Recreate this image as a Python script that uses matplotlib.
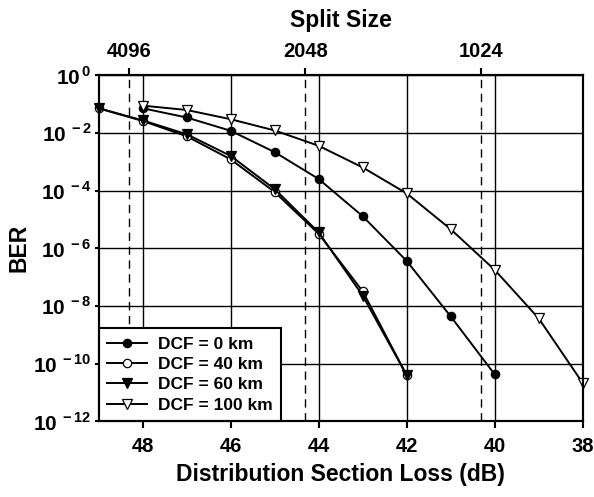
import matplotlib
matplotlib.use("Agg")
import matplotlib.pyplot as plt
import numpy as np

plt.rcParams["font.family"] = "Liberation Sans"
plt.rcParams["font.weight"] = "bold"
plt.rcParams["mathtext.fontset"] = "custom"
plt.rcParams["mathtext.rm"] = "Liberation Sans:bold"
plt.rcParams["mathtext.bf"] = "Liberation Sans:bold"

# data (log10 BER)
loss_0 = [48, 47, 46, 45, 44, 43, 42, 41, 40]
ber_0 = [-1.15, -1.47, -1.93, -2.67, -3.60, -4.89, -6.44, -8.36, -10.37]

loss_40 = [49, 48, 47, 46, 45, 44, 43, 42]
ber_40 = [-1.15, -1.59, -2.12, -2.92, -4.05, -5.50, -7.49, -10.40]

loss_60 = [49, 48, 47, 46, 45, 44, 43, 42]
ber_60 = [-1.15, -1.57, -2.05, -2.80, -3.95, -5.45, -7.64, -10.40]

loss_100 = [48, 47, 46, 45, 44, 43, 42, 41, 40, 39, 38]
ber_100 = [-1.06, -1.21, -1.53, -1.92, -2.45, -3.20, -4.10, -5.34, -6.75, -8.43, -10.67]

split_loss = [48.3, 44.3, 40.3]
split_labels = ["4096", "2048", "1024"]

x_ticks = [48, 46, 44, 42, 40, 38]
y_exps = [0, -2, -4, -6, -8, -10, -12]

fig = plt.figure(figsize=(5.94, 4.97), dpi=100)
ax = fig.add_axes([0.166, 0.152, 0.815, 0.697])

series = [
    (loss_0, ber_0, "o", "black", "DCF = 0 km"),
    (loss_40, ber_40, "o", "white", "DCF = 40 km"),
    (loss_60, ber_60, "v", "black", "DCF = 60 km"),
    (loss_100, ber_100, "v", "white", "DCF = 100 km"),
]
for xs, ys, mk, fc, lab in series:
    ax.plot(xs, 10.0 ** np.array(ys), color="black", lw=1.4, marker=mk,
            ms=6 if mk == "o" else 6.5, mfc=fc, mec="black", mew=0.9,
            label=lab, zorder=3, clip_on=False)

ax.set_yscale("log")
ax.set_xlim(49, 38)
ax.set_ylim(1e-12, 1e0)
ax.set_xticks(x_ticks)
ax.set_xticklabels([str(t) for t in x_ticks])
ax.set_yticks([10.0 ** e for e in y_exps])
ax.set_yticklabels([r"$10^{\,%d}$" % e for e in y_exps])
ax.minorticks_off()
ax.grid(True, which="major", color="black", lw=1.0)
ax.set_axisbelow(True)
for xv in split_loss:
    ax.axvline(xv, color="black", lw=1.0, ls=(0, (6, 4)), zorder=1)

for s in ax.spines.values():
    s.set_linewidth(1.5)
ax.tick_params(axis="x", direction="out", length=5, width=1.5, labelsize=14.5, pad=6)
ax.tick_params(axis="y", direction="out", length=3, width=1.5, labelsize=15, pad=2)

ax.set_xlabel("Distribution Section Loss (dB)", fontsize=16.5, fontweight="bold", labelpad=5)
ax.set_ylabel("BER", fontsize=16.5, fontweight="bold", labelpad=2)

top = ax.twiny()
top.set_xlim(ax.get_xlim())
top.set_xticks(split_loss)
top.set_xticklabels(split_labels)
top.tick_params(axis="x", direction="out", length=5, width=1.5, labelsize=14.5, pad=5)
top.set_xlabel("Split Size", fontsize=16.5, fontweight="bold", labelpad=11)
for s in top.spines.values():
    s.set_linewidth(1.5)

leg = ax.legend(loc="lower left", bbox_to_anchor=(0.0, 0.0), fontsize=12.5,
                frameon=True, fancybox=False, edgecolor="black", framealpha=1,
                handlelength=2.3, handletextpad=0.6, borderpad=0.5,
                labelspacing=0.3, borderaxespad=0)
leg.get_frame().set_linewidth(1.5)
leg.set_zorder(5)
for t in leg.get_texts():
    t.set_fontweight("bold")

fig.savefig("out.png", dpi=100, facecolor="white")
